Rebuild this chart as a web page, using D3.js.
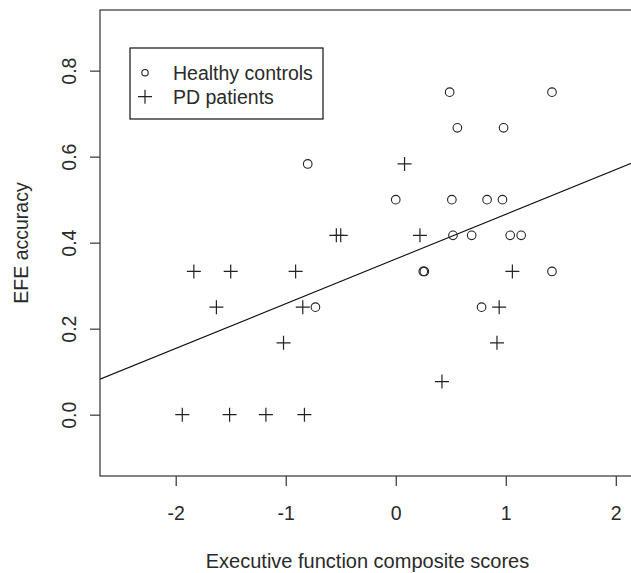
<!DOCTYPE html>
<html>
<head>
<meta charset="utf-8">
<script src="https://cdn.jsdelivr.net/npm/d3@7"></script>
<style>
  body { margin: 0; background: #fff; }
  svg text { font-family: "Liberation Sans", Arial, sans-serif; fill: #2a2a2a; }
</style>
</head>
<body>
<svg id="chart" width="631" height="573"></svg>
<script>
// Healthy controls (circles)
const controlX = [-0.80, -0.73, 0.00, 0.49, 0.56, 0.51, 0.52, 0.69, 0.83, 0.97, 0.98, 0.78, 1.04, 1.14, 1.42, 1.42, 0.25, 0.26];
const controlY = [0.583, 0.25, 0.50, 0.75, 0.667, 0.50, 0.417, 0.417, 0.50, 0.50, 0.667, 0.25, 0.417, 0.417, 0.75, 0.333, 0.333, 0.333];

// PD patients (plus signs)
const patientX = [0.08, -0.54, -0.50, 0.22, -1.835, -1.50, -0.91, 1.06, -1.63, -0.845, 0.94, -1.02, 0.92, 0.42, -1.94, -1.51, -1.18, -0.83];
const patientY = [0.583, 0.417, 0.417, 0.417, 0.333, 0.333, 0.333, 0.333, 0.25, 0.25, 0.25, 0.167, 0.167, 0.077, 0, 0, 0, 0];

// regression line (abline)
const lineIntercept = 0.362;
const lineSlope = 0.104;

const xTicks = [-2, -1, 0, 1, 2];
const yTicks = [0.0, 0.2, 0.4, 0.6, 0.8];
const legendLabels = ["Healthy controls", "PD patients"];

const svg = d3.select("#chart");
const plotLeft = 100, plotTop = 10, plotBottom = 476, plotRight = 640;

const x = d3.scaleLinear().domain([-2.688, 2.22]).range([plotLeft, plotRight]);
const y = d3.scaleLinear().domain([-0.1426, 0.941]).range([plotBottom, plotTop]);

const fontSize = 19.5;
const plusPath = "M-7,0H7M0,-7V7";

svg.append("defs").append("clipPath").attr("id", "plotClip")
  .append("rect").attr("x", plotLeft).attr("y", plotTop)
  .attr("width", plotRight - plotLeft).attr("height", plotBottom - plotTop);

// plot frame (right side falls outside the window)
svg.append("rect")
  .attr("x", plotLeft).attr("y", plotTop)
  .attr("width", plotRight - plotLeft).attr("height", plotBottom - plotTop)
  .attr("fill", "none").attr("stroke", "#333").attr("stroke-width", 1.2);

// axes
const xAxis = svg.append("g")
  .attr("transform", `translate(0,${plotBottom})`)
  .call(d3.axisBottom(x).tickValues(xTicks).tickSize(10).tickPadding(20).tickFormat(d3.format("d")));
xAxis.select(".domain").remove();
xAxis.selectAll("line").attr("stroke", "#333").attr("stroke-width", 1.2);
xAxis.selectAll("text").attr("font-size", fontSize).attr("font-family", "Liberation Sans, Arial, sans-serif").attr("fill", "#2a2a2a")
  .text(d => d < 0 ? "-" + Math.abs(d) : d);

const yAxis = svg.append("g")
  .attr("transform", `translate(${plotLeft},0)`)
  .call(d3.axisLeft(y).tickValues(yTicks).tickSize(10).tickFormat(d3.format(".1f")));
yAxis.select(".domain").remove();
yAxis.selectAll("line").attr("stroke", "#333").attr("stroke-width", 1.2);
yAxis.selectAll("text")
  .attr("font-size", fontSize).attr("font-family", "Liberation Sans, Arial, sans-serif").attr("fill", "#2a2a2a")
  .attr("text-anchor", "middle").attr("dy", null).attr("x", null)
  .attr("transform", "translate(-24,0) rotate(-90)");

// axis titles
svg.append("text")
  .attr("x", (100 + 631) / 2 + 2).attr("y", 568)
  .attr("text-anchor", "middle").attr("font-size", 20)
  .text("Executive function composite scores");

svg.append("text")
  .attr("transform", `translate(28,${(plotTop + plotBottom) / 2}) rotate(-90)`)
  .attr("text-anchor", "middle").attr("font-size", fontSize)
  .text("EFE accuracy");

// regression line
const plot = svg.append("g").attr("clip-path", "url(#plotClip)");
const [x0, x1] = x.domain();
plot.append("line")
  .attr("x1", x(x0)).attr("y1", y(lineIntercept + lineSlope * x0))
  .attr("x2", x(x1)).attr("y2", y(lineIntercept + lineSlope * x1))
  .attr("stroke", "#111").attr("stroke-width", 1.1);

// points
const controls = controlX.map((v, i) => ({ x: v, y: controlY[i] }));
const patients = patientX.map((v, i) => ({ x: v, y: patientY[i] }));

plot.selectAll("circle.ctrl").data(controls).enter().append("circle")
  .attr("class", "ctrl")
  .attr("cx", d => x(d.x)).attr("cy", d => y(d.y)).attr("r", 4.3)
  .attr("fill", "none").attr("stroke", "#222").attr("stroke-width", 1.1);

plot.selectAll("path.pd").data(patients).enter().append("path")
  .attr("class", "pd")
  .attr("transform", d => `translate(${x(d.x)},${y(d.y)})`)
  .attr("d", plusPath)
  .attr("fill", "none").attr("stroke", "#222").attr("stroke-width", 1.2);

// legend
const legend = svg.append("g");
legend.append("rect")
  .attr("x", 130).attr("y", 48).attr("width", 193).attr("height", 71)
  .attr("fill", "#fff").attr("stroke", "#111").attr("stroke-width", 1.2);

legend.append("circle").attr("cx", 145).attr("cy", 72.7).attr("r", 3.2)
  .attr("fill", "none").attr("stroke", "#222").attr("stroke-width", 1.1);
legend.append("path").attr("transform", "translate(145,96.7)")
  .attr("d", plusPath)
  .attr("stroke", "#222").attr("stroke-width", 1.2);

legend.selectAll("text.lab").data(legendLabels).enter().append("text")
  .attr("class", "lab")
  .attr("x", 173).attr("y", (d, i) => 79.5 + i * 24)
  .attr("font-size", fontSize)
  .text(d => d);
</script>
</body>
</html>
